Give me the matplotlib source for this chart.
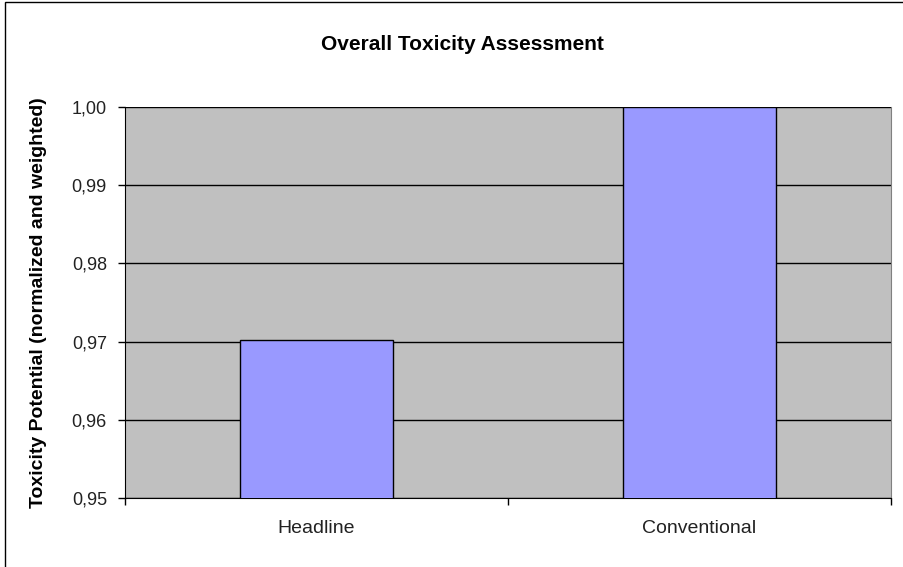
import matplotlib
matplotlib.use('Agg')
import matplotlib.pyplot as plt
from matplotlib.patches import Rectangle
from matplotlib.ticker import FixedLocator

categories = ['Headline', 'Conventional']
values = [0.9702, 1.00]
y_ticks = [0.95, 0.96, 0.97, 0.98, 0.99, 1.00]
y_tick_labels = ['0,95', '0,96', '0,97', '0,98', '0,99', '1,00']

plt.rcParams['font.family'] = ['Liberation Sans', 'DejaVu Sans']

fig = plt.figure(figsize=(9.04, 5.67), dpi=100)
W, H = 904, 567
ax = fig.add_axes([125 / W, 1 - 498 / H, (891 - 125) / W, (498 - 107) / H])
ax.set_facecolor('#C0C0C0')

x = list(range(len(categories)))
ax.bar(x, values, width=0.4, color='#9999FF', edgecolor='black', linewidth=1, zorder=3)

ax.set_xlim(-0.5, len(categories) - 0.5)
ax.set_ylim(0.95, 1.00)
ax.set_yticks(y_ticks)
ax.set_yticklabels(y_tick_labels, fontsize=13, color='#222222')
ax.yaxis.grid(True, color='black', linewidth=1, zorder=1)
ax.set_axisbelow(True)

ax.set_xticks(x)
ax.set_xticklabels(categories, fontsize=14, color='#222222')
ax.tick_params(axis='x', length=0, pad=16)
ax.xaxis.set_minor_locator(FixedLocator([-0.5, 0.5, 1.5]))
ax.tick_params(axis='x', which='minor', length=5, width=1, color='black', direction='out')
ax.tick_params(axis='y', length=5, width=1, color='black', direction='out', pad=8)

ax.spines['top'].set_visible(False)
ax.spines['right'].set_color('#808080')
ax.spines['left'].set_color('black')
ax.spines['bottom'].set_color('black')

ax.set_ylabel('Toxicity Potential (normalized and weighted)', fontsize=14,
              fontweight='bold', labelpad=18)
fig.text(462 / W, 1 - 45 / H, 'Overall Toxicity Assessment',
         ha='center', va='center', fontsize=15, fontweight='bold')

# outer chart border
fig.patches.append(Rectangle((5 / W, -0.1), 1.1, 1 - 2 / H + 0.1, transform=fig.transFigure,
                             fill=False, edgecolor='black', linewidth=1))

fig.savefig('out.png', dpi=100)
